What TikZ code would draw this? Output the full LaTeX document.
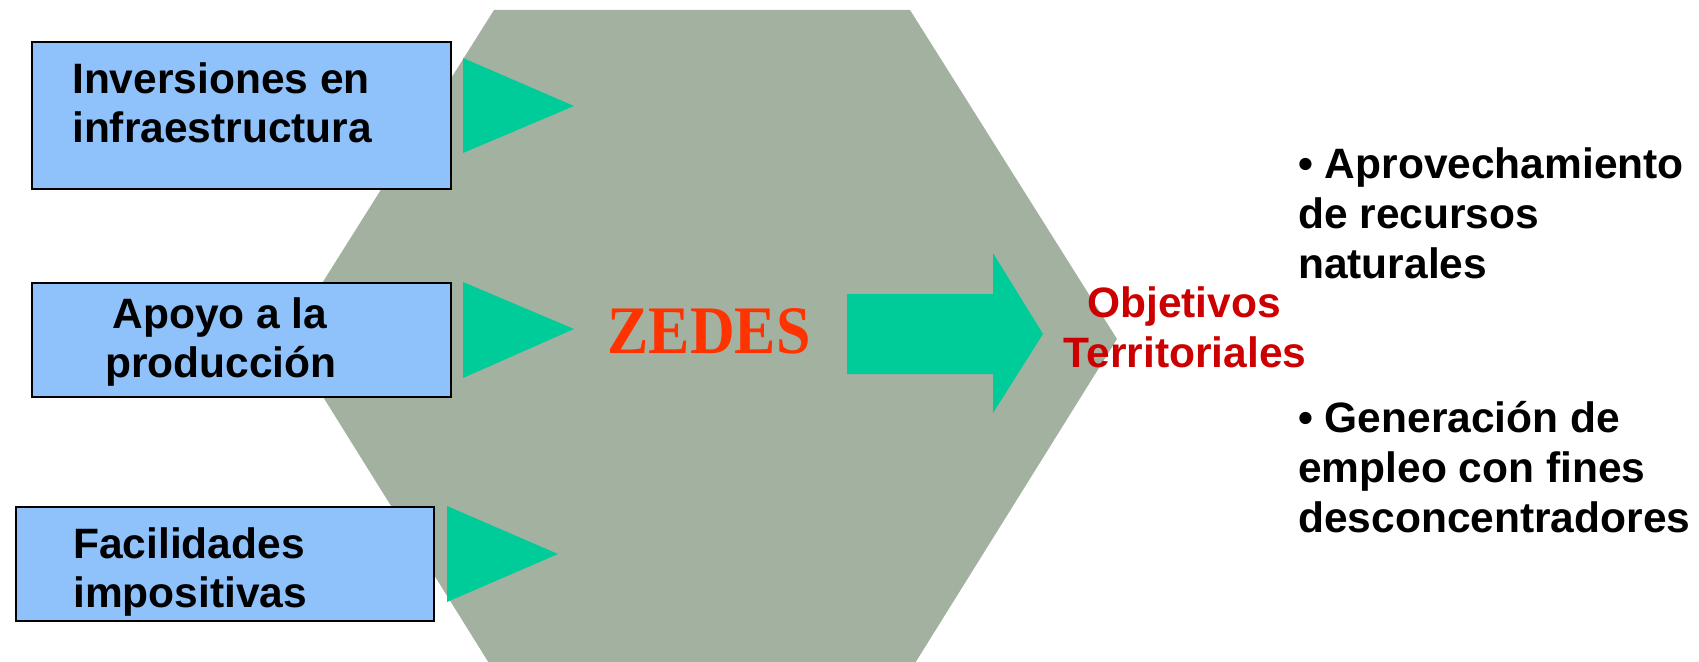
\documentclass[tikz,border=0pt]{standalone}
\usepackage{fontspec}
\setmainfont{Liberation Sans}
\newfontfamily\zedesfont{Liberation Serif}
\definecolor{hexgray}{RGB}{163,177,160}
\definecolor{arrowgreen}{RGB}{0,204,153}
\definecolor{boxblue}{RGB}{143,193,250}
\definecolor{zedesred}{RGB}{255,51,0}
\definecolor{objred}{RGB}{204,0,0}
\begin{document}
\begin{tikzpicture}[x=1pt,y=-1pt,
  inbox/.style={draw=black, line width=2pt, fill=boxblue, inner sep=0pt, anchor=north west},
  lbl/.style={inner sep=0pt, font=\fontsize{42.5}{50}\selectfont\bfseries},
  objlbl/.style={lbl, text=objred, anchor=base},
  intri/.style={fill=arrowgreen},
]
\useasboundingbox (0,0) rectangle (1699,661);
% hexagon
\begin{scope}
\clip (0,0) rectangle (1699,661);
\fill[hexgray] (494,10) -- (910,10) -- (1117,339) -- (912,668) -- (492,668) -- (287,339) -- cycle;
\end{scope}
% input boxes
\node[inbox, minimum width=419pt, minimum height=146pt] (b1) at (30.5,41.5) {};
\node[inbox, minimum width=419pt, minimum height=114pt] (b2) at (31,282) {};
\node[inbox, minimum width=418pt, minimum height=114pt] (b3) at (14.5,506) {};
% box texts
\node[lbl, anchor=base west] (t1a) at (72,93) {Inversiones en};
\node[lbl, anchor=base west] (t1b) at (72,142) {infraestructura};
\node[lbl, anchor=base] (t2a) at (220,328) {Apoyo a la};
\node[lbl, anchor=base] (t2b) at (221,377) {producción};
\node[lbl, anchor=base west] (t3a) at (73,558) {Facilidades};
\node[lbl, anchor=base west] (t3b) at (73,607) {impositivas};
% green triangles
\fill[intri] (463,58) -- (574,106) -- (463,153) -- cycle;
\fill[intri] (463,282) -- (574,329) -- (463,378) -- cycle;
\fill[intri] (447,506) -- (558,554) -- (447,602) -- cycle;
% big arrow
\fill[intri] (847,294) -- (993,294) -- (993,253) -- (1043,334) -- (993,413) -- (993,374) -- (847,374) -- cycle;
% ZEDES
\node[inner sep=0pt, anchor=base, text=zedesred] (zedes) at (709,353)
  {\scalebox{0.91}[1]{\zedesfont\bfseries\fontsize{68}{70}\selectfont ZEDES}};
% Objetivos
\node[objlbl] (obj1) at (1184,317) {Objetivos};
\node[objlbl] (obj2) at (1185,367) {Territoriales};
% bullets
\node[lbl, anchor=base west] (p1a) at (1298,178) {• Aprovechamiento};
\node[lbl, anchor=base west] (p1b) at (1298,228) {de recursos};
\node[lbl, anchor=base west] (p1c) at (1298,278) {naturales};
\node[lbl, anchor=base west] (p2a) at (1298,432) {• Generación de};
\node[lbl, anchor=base west] (p2b) at (1298,482) {empleo con fines};
\node[lbl, anchor=base west] (p2c) at (1298,532) {desconcentradores};
\end{tikzpicture}
\end{document}
